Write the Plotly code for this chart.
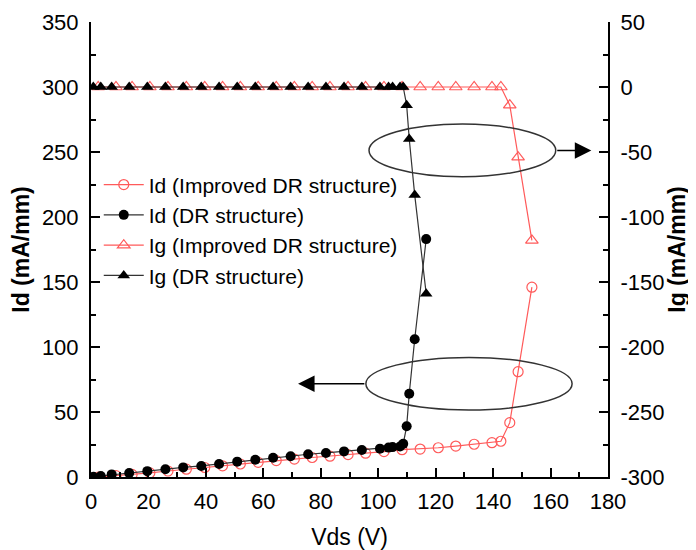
import plotly.graph_objects as go

# ---- data ----
vds_dr = [0.8, 3.4, 7.2, 13.3, 19.6, 25.9, 32.1, 38.4, 44.6, 50.9, 57.2, 63.4, 69.5,
          75.6, 81.8, 88.1, 94.3, 100.6, 103.6, 105.0, 107.6, 108.7, 109.9, 110.8,
          112.7, 116.7]
id_dr = [0.2, 0.8, 2.0, 3.0, 4.5, 5.9, 7.4, 8.5, 10.0, 11.8, 13.3, 14.8, 16.0,
         17.5, 18.5, 19.7, 20.8, 21.8, 22.6, 23.0, 23.5, 25.5, 39.0, 64.0,
         106.0, 183.0]
ig_dr = [0, 0, 0, 0, 0, 0, 0, 0, 0, 0, 0, 0, 0,
         0, 0, 0, 0, 0, 0, 0, 0, 0, -14, -40, -83, -159]

vds_imp = [2.5, 8.7, 14.3, 20.5, 26.8, 33.2, 39.6, 45.8, 52.0, 58.2, 64.5, 70.8,
           77.0, 83.2, 89.5, 95.6, 102.0, 108.3, 114.6, 120.9, 127.0, 133.4,
           139.6, 142.7, 145.8, 148.7, 153.5]
id_imp = [0.0, 1.0, 2.0, 3.2, 4.6, 6.0, 7.3, 8.6, 10.0, 11.3, 12.6, 13.8,
          15.0, 16.0, 17.2, 18.3, 19.5, 21.0, 21.5, 22.5, 23.8, 25.2,
          26.4, 27.5, 41.8, 81.0, 146.0]
ig_imp = [0, 0, 0, 0, 0, 0, 0, 0, 0, 0, 0, 0,
          0, 0, 0, 0, 0, 0, 0, 0, 0, 0,
          0, 0, -14, -54, -118]

names = ["Id (Improved DR structure)", "Id (DR structure)",
         "Ig (Improved DR structure)", "Ig (DR structure)"]

ig_tick_vals = [50, 0, -50, -100, -150, -200, -250, -300]
ig_tick_text = ["50", "0", "-50", "-100", "-150", "-200", "-250", "-300"]

RED = "#ff5a5a"
BLK = "#000000"
FONT = "Liberation Sans, Arial, sans-serif"

fig = go.Figure()
fig.add_trace(go.Scatter(x=vds_imp, y=id_imp, name=names[0], mode="lines+markers",
                         line=dict(color=RED, width=1.2),
                         marker=dict(symbol="circle-open", size=10, color=RED,
                                     line=dict(width=1.2, color=RED))))
fig.add_trace(go.Scatter(x=vds_dr, y=id_dr, name=names[1], mode="lines+markers",
                         line=dict(color="#333333", width=1.2),
                         marker=dict(symbol="circle", size=10, color=BLK)))
fig.add_trace(go.Scatter(x=vds_imp, y=ig_imp, name=names[2], mode="lines+markers",
                         yaxis="y2",
                         line=dict(color=RED, width=1.2),
                         marker=dict(symbol="triangle-up-open", size=11, color=RED,
                                     line=dict(width=1.2, color=RED))))
fig.add_trace(go.Scatter(x=vds_dr, y=ig_dr, name=names[3], mode="lines+markers",
                         yaxis="y2",
                         line=dict(color="#333333", width=1.2),
                         marker=dict(symbol="triangle-up", size=11, color=BLK)))

# ellipses (in left-axis data coordinates)
ell_color = "#333333"
fig.add_shape(type="circle", xref="x", yref="y", x0=96.8, x1=161.8, y0=231, y1=271.5,
              line=dict(color=ell_color, width=1.5))
fig.add_shape(type="circle", xref="x", yref="y", x0=95.7, x1=167.5, y0=51.5, y1=92,
              line=dict(color=ell_color, width=1.5))
# arrows
fig.add_annotation(x=174.2, y=251.2, ax=161.8, ay=251.2, xref="x", yref="y",
                   axref="x", ayref="y", showarrow=True, arrowhead=2, arrowsize=2.2,
                   arrowwidth=1.5, arrowcolor=BLK, text="")
fig.add_annotation(x=72.1, y=71.7, ax=95.7, ay=71.7, xref="x", yref="y",
                   axref="x", ayref="y", showarrow=True, arrowhead=2, arrowsize=2.2,
                   arrowwidth=1.5, arrowcolor=BLK, text="")

axis_common = dict(showgrid=False, zeroline=False, showline=True, linecolor=BLK,
                   linewidth=2, ticks="inside", ticklen=9, tickwidth=1.5,
                   tickcolor=BLK, automargin=False,
                   tickfont=dict(size=22, color=BLK, family=FONT))

# page body has an 8px default margin at top/left, so the figure is 8px smaller
fig.update_layout(
    width=688, height=542,
    margin=dict(l=83, r=88, t=14, b=73),
    paper_bgcolor="white", plot_bgcolor="white",
    font=dict(family=FONT, color=BLK),
    xaxis=dict(range=[0, 180], dtick=20, tick0=0,
               minor=dict(ticks="inside", ticklen=5, dtick=10, tickcolor=BLK, tickwidth=1.5),
               title=dict(text="Vds (V)", font=dict(size=23, family=FONT), standoff=18),
               ticklabelstandoff=4,
               **axis_common),
    yaxis=dict(range=[0, 350], dtick=50, tick0=0,
               minor=dict(ticks="inside", ticklen=5, dtick=25, tickcolor=BLK, tickwidth=1.5),
               title=dict(text="<b>Id (mA/mm)</b>", font=dict(size=23, family=FONT), standoff=9),
               ticklabelstandoff=6,
               **axis_common),
    yaxis2=dict(range=[-300, 50], overlaying="y", side="right",
                tickmode="array", tickvals=ig_tick_vals, ticktext=ig_tick_text,
                minor=dict(ticks="inside", ticklen=5, dtick=25, tick0=0, tickcolor=BLK, tickwidth=1.5),
                title=dict(text="<b>Ig (mA/mm)</b>", font=dict(size=23, family=FONT), standoff=4),
                ticklabelstandoff=6,
                **axis_common),
    legend=dict(x=0.015, y=0.687, xanchor="left", yanchor="top",
                bgcolor="rgba(0,0,0,0)", font=dict(size=21, family=FONT, color=BLK),
                tracegroupgap=0, itemwidth=40),
    showlegend=True,
)

fig.write_html("out.html")
